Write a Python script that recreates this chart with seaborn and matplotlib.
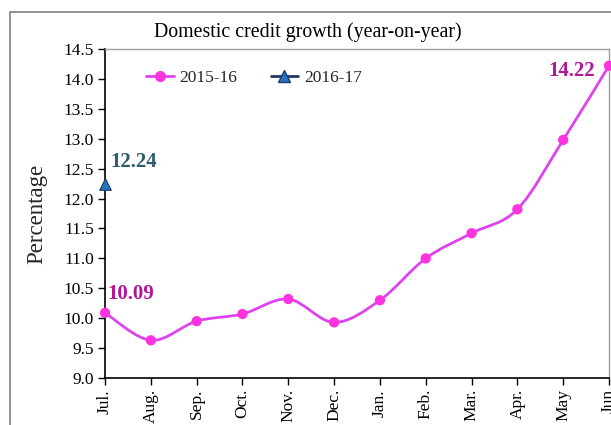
import numpy as np
import pandas as pd
import seaborn as sns
import matplotlib
matplotlib.use("Agg")
import matplotlib.pyplot as plt
from matplotlib.path import Path
from matplotlib.patches import PathPatch, Rectangle
from matplotlib.lines import Line2D

months = ["Jul.", "Aug.", "Sep.", "Oct.", "Nov.", "Dec.", "Jan.", "Feb.", "Mar.", "Apr.", "May", "Jun"]
growth_2015_16 = [10.09, 9.63, 9.95, 10.07, 10.32, 9.93, 10.30, 11.00, 11.42, 11.82, 12.98, 14.22]
growth_2016_17 = [12.24]
series_names = ["2015-16", "2016-17"]
y_ticks = [9.0, 9.5, 10.0, 10.5, 11.0, 11.5, 12.0, 12.5, 13.0, 13.5, 14.0, 14.5]

sns.set_theme(style="white")
plt.rcParams["font.family"] = ["Liberation Serif", "DejaVu Serif"]

fig = plt.figure(figsize=(6.11, 4.25), dpi=100)
ax = fig.add_axes([105/611, 1-378/425, 504/611, 329/425])

# outer frame of the chart
fig.patches.append(Rectangle((10/611, -0.1), 1.2, 1.1 - 12/425, transform=fig.transFigure,
                             fill=False, edgecolor="#808080", linewidth=1.2, clip_on=False))

x = np.arange(len(months))
df1 = pd.DataFrame({"month": x, "value": growth_2015_16})
df2 = pd.DataFrame({"month": x[:len(growth_2016_17)], "value": growth_2016_17})

# smooth curve (Catmull-Rom -> cubic Bezier) in data coordinates
pts = np.column_stack([x, growth_2015_16]).astype(float)
verts = [tuple(pts[0])]
codes = [Path.MOVETO]
n = len(pts)
for i in range(n - 1):
    p0 = pts[i - 1] if i > 0 else pts[i]
    p1 = pts[i]
    p2 = pts[i + 1]
    p3 = pts[i + 2] if i + 2 < n else pts[i + 1]
    c1 = p1 + (p2 - p0) / 6.0
    c2 = p2 - (p3 - p1) / 6.0
    verts += [tuple(c1), tuple(c2), tuple(p2)]
    codes += [Path.CURVE4, Path.CURVE4, Path.CURVE4]
ax.add_patch(PathPatch(Path(verts, codes), facecolor="none", edgecolor="#DD44F0",
                       linewidth=2.0, zorder=3, clip_on=False))

sns.scatterplot(data=df1, x="month", y="value", ax=ax, color="#FF33DD", s=55,
                edgecolor="none", zorder=4, clip_on=False, legend=False)
sns.scatterplot(data=df2, x="month", y="value", ax=ax, color="#1F74C4", marker="^", s=70,
                edgecolor="#1F3864", linewidth=0.8, zorder=4, clip_on=False, legend=False)

ax.set_xlim(0, 11)
ax.set_ylim(9.0, 14.5)
ax.set_yticks(y_ticks)
ax.set_yticklabels([f"{v:.1f}" for v in y_ticks], fontsize=12.5)
ax.set_xticks(x)
ax.set_xticklabels(months, rotation=90, fontsize=12.5, va="top")
ax.set_xlabel("")
ax.set_ylabel("Percentage", fontsize=16.5, labelpad=12)
ax.tick_params(axis="both", direction="out", length=5, width=1, color="black", pad=3,
               bottom=True, left=True, labelcolor="black")

for side in ["left", "bottom"]:
    ax.spines[side].set_color("black")
    ax.spines[side].set_linewidth(1.2)
for side in ["top", "right"]:
    ax.spines[side].set_color("#A0A0A0")
    ax.spines[side].set_linewidth(1.0)

# data labels
ax.annotate(f"{growth_2015_16[0]:.2f}", (x[0], growth_2015_16[0]), xytext=(2, 6),
            textcoords="offset points", fontsize=15, fontweight="bold", color="#B0179B",
            ha="left", va="bottom")
ax.annotate(f"{growth_2015_16[-1]:.2f}", (x[-1], growth_2015_16[-1]), xytext=(-10, -4),
            textcoords="offset points", fontsize=15, fontweight="bold", color="#B0179B",
            ha="right", va="center")
ax.annotate(f"{growth_2016_17[0]:.2f}", (x[0], growth_2016_17[0]), xytext=(4, 9),
            textcoords="offset points", fontsize=15, fontweight="bold", color="#2E5B6E",
            ha="left", va="bottom")

handles = [
    Line2D([0], [0], color="#DD44F0", lw=2, marker="o", markersize=7,
           markerfacecolor="#FF33DD", markeredgecolor="#FF33DD"),
    Line2D([0], [0], color="#1F3864", lw=2, marker="^", markersize=8,
           markerfacecolor="#1F74C4", markeredgecolor="#1F3864"),
]
ax.legend(handles, series_names, loc="upper left", bbox_to_anchor=(0.05, 0.985), ncol=2,
          frameon=False, fontsize=12.5, handlelength=1.6, handletextpad=0.35, columnspacing=1.9)

fig.text(308/611, 1-32/425, "Domestic credit growth (year-on-year)", ha="center", va="center",
         fontsize=14.3, color="black")

fig.savefig("out.png", dpi=100)
